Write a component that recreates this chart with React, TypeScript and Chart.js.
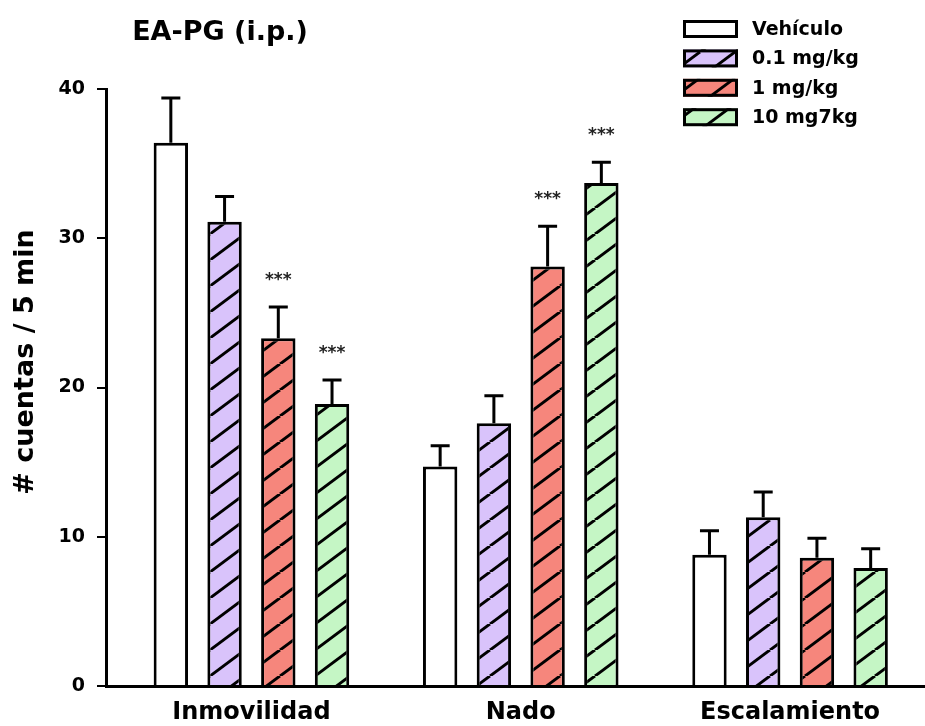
import React, { useEffect, useRef } from "react";
import { Chart, registerables } from "chart.js";

Chart.register(...registerables);

// ---- data ----
const categories = ["Inmovilidad", "Nado", "Escalamiento"];
const seriesLabels = ["Vehículo", "0.1 mg/kg", "1 mg/kg", "10 mg7kg"];
const vehiculo = [36.4, 14.7, 8.8];
const dosis01 = [31.1, 17.6, 11.3];
const dosis1 = [23.3, 28.1, 8.6];
const dosis10 = [18.9, 33.7, 7.9];
const errVehiculo = [3.0, 1.4, 1.6];
const err01 = [1.7, 1.85, 1.7];
const err1 = [2.1, 2.7, 1.3];
const err10 = [1.6, 1.4, 1.3];
const sigVehiculo = ["", "", ""];
const sig01 = ["", "", ""];
const sig1 = ["***", "***", ""];
const sig10 = ["***", "***", ""];
const yMin = 0;
const yMax = 40;
const yStep = 10;
const chartTitle = "EA-PG (i.p.)";
const yTitle = "# cuentas / 5 min";

const seriesValues = [vehiculo, dosis01, dosis1, dosis10];
const seriesErrors = [errVehiculo, err01, err1, err10];
const seriesSig = [sigVehiculo, sig01, sig1, sig10];
const seriesFill = ["#ffffff", "#d9c3fb", "#f6867c", "#c5f6c5"];
const seriesHatched = [false, true, true, true];

const FONT = "'DejaVu Sans', 'Liberation Sans', Arial, sans-serif";

function makeFill(color: string, hatched: boolean): any {
  if (!hatched) return color;
  const w = 35;
  const h = 26;
  const c = document.createElement("canvas");
  c.width = w;
  c.height = h;
  const g = c.getContext("2d")!;
  g.fillStyle = color;
  g.fillRect(0, 0, w, h);
  g.strokeStyle = "#000";
  g.lineWidth = 3;
  for (const dx of [-w, 0, w]) {
    g.beginPath();
    g.moveTo(dx, h);
    g.lineTo(dx + w, 0);
    g.stroke();
  }
  return g.createPattern(c, "repeat");
}

const overlayPlugin = {
  id: "overlayPlugin",
  afterDatasetsDraw(chart: any) {
    const ctx = chart.ctx;
    const y = chart.scales.y;
    chart.data.datasets.forEach((_ds: any, di: number) => {
      const meta = chart.getDatasetMeta(di);
      meta.data.forEach((bar: any, i: number) => {
        const v = seriesValues[di][i];
        const e = seriesErrors[di][i];
        const base = y.getPixelForValue(v);
        const top = y.getPixelForValue(v + e);
        ctx.save();
        ctx.strokeStyle = "#000";
        ctx.lineWidth = 3;
        ctx.beginPath();
        ctx.moveTo(bar.x, base);
        ctx.lineTo(bar.x, top);
        ctx.moveTo(bar.x - 9.5, top);
        ctx.lineTo(bar.x + 9.5, top);
        ctx.stroke();
        const s = seriesSig[di][i];
        if (s) {
          ctx.font = `bold 17px ${FONT}`;
          ctx.textAlign = "center";
          ctx.textBaseline = "alphabetic";
          ctx.fillStyle = "#222";
          ctx.fillText(s, bar.x, top - 22);
        }
        ctx.restore();
      });
    });
  },
  afterDraw(chart: any) {
    const ctx = chart.ctx;
    ctx.save();
    // title
    ctx.fillStyle = "#000";
    ctx.font = `bold 27px ${FONT}`;
    ctx.textAlign = "center";
    ctx.textBaseline = "alphabetic";
    ctx.fillText(chartTitle, 220, 40);
    // y-axis title
    ctx.save();
    ctx.translate(33, 362);
    ctx.rotate(-Math.PI / 2);
    ctx.font = `bold 27px ${FONT}`;
    ctx.textAlign = "center";
    ctx.textBaseline = "alphabetic";
    ctx.fillText(yTitle, 0, 0);
    ctx.restore();
    // legend
    chart.data.datasets.forEach((ds: any, i: number) => {
      const cy = 29 + i * 29.4;
      const x = 683;
      ctx.fillStyle = ds.backgroundColor;
      ctx.fillRect(x, cy - 9, 55, 18);
      ctx.strokeStyle = "#000";
      ctx.lineWidth = 3;
      ctx.strokeRect(x + 1.5, cy - 7.5, 52, 15);
      ctx.fillStyle = "#000";
      ctx.font = `bold 19px ${FONT}`;
      ctx.textAlign = "left";
      ctx.textBaseline = "middle";
      ctx.fillText(ds.label, 752, cy + 1);
    });
    ctx.restore();
  },
};

export default function App() {
  const ref = useRef<HTMLCanvasElement | null>(null);

  useEffect(() => {
    if (!ref.current) return;
    const datasets = seriesLabels.map((label, si) => ({
      label,
      data: seriesValues[si].map((v, i) => ({ x: i, y: v })),
      backgroundColor: makeFill(seriesFill[si], seriesHatched[si]),
      borderColor: "#000",
      borderWidth: 3,
      categoryPercentage: 0.798,
      barPercentage: 0.64,
    }));
    const chart = new Chart(ref.current, {
      type: "bar",
      data: { datasets },
      options: {
        animation: false,
        responsive: false,
        devicePixelRatio: 1,
        events: [],
        layout: { padding: { top: 89, left: 0, right: 0, bottom: 0 } },
        plugins: {
          legend: { display: false },
          title: { display: false },
          tooltip: { enabled: false },
        },
        scales: {
          x: {
            type: "linear",
            min: -0.54,
            max: 2.501,
            offset: false,
            grid: { display: false, offset: false },
            border: { display: true, color: "#000", width: 3 },
            ticks: {
              stepSize: 1,
              includeBounds: false,
              autoSkip: false,
              maxRotation: 0,
              padding: 4,
              color: "#000",
              font: { family: FONT, weight: "bold", size: 24 },
              callback: (v: any) => categories[v] ?? "",
            },
            afterFit: (s: any) => {
              s.height = 40;
            },
          },
          y: {
            type: "linear",
            min: yMin,
            max: yMax,
            grid: {
              display: true,
              drawOnChartArea: false,
              drawTicks: true,
              tickLength: 9,
              color: "#000",
              lineWidth: 2,
            },
            border: { display: true, color: "#000", width: 3 },
            ticks: {
              stepSize: yStep,
              padding: 12,
              color: "#000",
              font: { family: FONT, weight: "bold", size: 19 },
            },
            afterFit: (s: any) => {
              s.width = 106;
            },
          },
        },
      } as any,
      plugins: [overlayPlugin],
    });
    return () => chart.destroy();
  }, []);

  return (
    <div style={{ position: "absolute", left: 0, top: 0, width: 925, height: 726, background: "#fff" }}>
      <canvas ref={ref} width={925} height={726} />
    </div>
  );
}
